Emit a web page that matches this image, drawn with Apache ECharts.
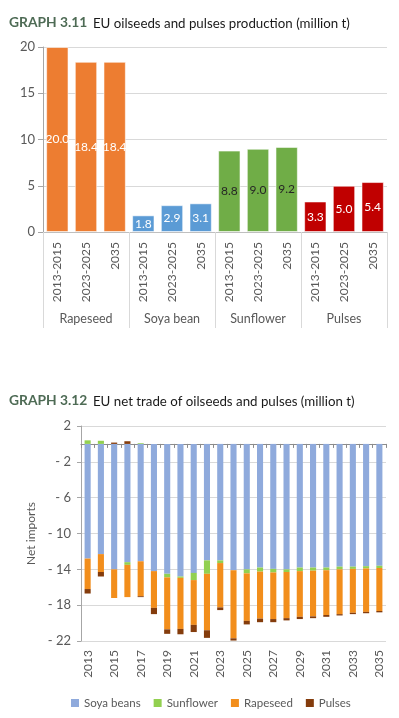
<!DOCTYPE html>
<html>
<head>
<meta charset="utf-8">
<script src="https://cdn.jsdelivr.net/npm/echarts@6/dist/echarts.min.js"></script>
<style>
  html, body { margin: 0; padding: 0; background: #fff; }
  #chart { width: 399px; height: 718px; }
</style>
</head>
<body>
<div id="chart"></div>
<script>
document.addEventListener('DOMContentLoaded', function()
{
  // GRAPH 3.11 - production
  var cropGroups = ['Rapeseed', 'Soya bean', 'Sunflower', 'Pulses'];
  var periodLabels = ['2013-2015', '2023-2025', '2035',
                      '2013-2015', '2023-2025', '2035',
                      '2013-2015', '2023-2025', '2035',
                      '2013-2015', '2023-2025', '2035'];
  var production = [20.0, 18.4, 18.4, 1.8, 2.9, 3.1, 8.8, 9.0, 9.2, 3.3, 5.0, 5.4];
  var prodTicks = [0, 5, 10, 15, 20];

  // GRAPH 3.12 - net trade
  var years = ['2013', '2014', '2015', '2016', '2017', '2018', '2019', '2020', '2021', '2022', '2023', '2024',
               '2025', '2026', '2027', '2028', '2029', '2030', '2031', '2032', '2033', '2034', '2035'];
  var soyaBeans = [-12.8, -12.3, -14.0, -13.2, -13.1, -14.2, -14.5, -14.8, -14.4, -13.0, -13.0, -14.1,
                   -14.0, -13.8, -13.95, -14.0, -13.8, -13.8, -13.8, -13.7, -13.7, -13.65, -13.6];
  var sunflower = [0.4, 0.35, 0, -0.3, 0.08, 0, -0.4, -0.15, -0.8, -1.5, -0.3, 0,
                   -0.45, -0.45, -0.4, -0.3, -0.4, -0.35, -0.3, -0.3, -0.25, -0.25, -0.25];
  var rapeseed = [-3.4, -2.0, -3.2, -3.6, -3.9, -4.1, -5.8, -5.7, -5.0, -6.3, -4.95, -7.6,
                  -5.3, -5.25, -5.2, -5.15, -5.1, -5.1, -5.0, -5.0, -4.9, -4.85, -4.8];
  var pulses = [-0.5, -0.5, 0.15, 0.3, -0.1, -0.7, -0.5, -0.6, -0.8, -0.85, -0.3, -0.25,
                -0.4, -0.4, -0.35, -0.25, -0.25, -0.2, -0.2, -0.15, -0.15, -0.15, -0.15];
  var tradeTicks = [2, -2, -6, -10, -14, -18, -22];

  var font = 'Lato';
  var grey = '#595959';
  var groupColors = ['#ed7d31', '#5b9bd5', '#70ad47', '#c00000'];
  var labelColors = ['#ffffff', '#ffffff', '#262626', '#ffffff'];

  var prodData = production.map(function(v, i) {
    var g = Math.floor(i / 3);
    return {
      value: v,
      itemStyle: { color: groupColors[g] },
      label: { color: labelColors[g] }
    };
  });

  var titleRich = {
    g: { fontFamily: font, fontWeight: 'bold', fontSize: 13.8, color: '#4e6b55' },
    t: { fontFamily: font, fontWeight: 'normal', fontSize: 13.3, color: '#1a1a1a', padding: [1, 0, 0, 1] }
  };

  var chart = echarts.init(document.getElementById('chart'));

  var option = {
    animation: false,
    textStyle: { fontFamily: font },
    title: [
      {
        text: '{g|GRAPH 3.11} {t|EU oilseeds and pulses production (million t)}',
        left: 4,
        top: 9,
        textStyle: { fontWeight: 'normal', rich: titleRich }
      },
      {
        text: '{g|GRAPH 3.12} {t|EU net trade of oilseeds and pulses (million t)}',
        left: 4,
        top: 387,
        textStyle: { fontWeight: 'normal', rich: titleRich }
      }
    ],
    legend: {
      data: ['Soya beans', 'Sunflower', 'Rapeseed', 'Pulses'],
      left: 66,
      top: 692,
      icon: 'rect',
      itemWidth: 8,
      itemHeight: 8,
      itemGap: 13,
      textStyle: { fontFamily: font, fontSize: 11.5, color: grey }
    },
    grid: [
      { left: 43, right: 12, top: 47, height: 185 },
      { left: 81, right: 13, top: 426, height: 215 }
    ],
    xAxis: [
      {
        gridIndex: 0,
        type: 'category',
        data: periodLabels,
        axisLine: { lineStyle: { color: '#bfbfbf' } },
        axisTick: { show: false },
        axisLabel: { rotate: 90, interval: 0, margin: 10, fontSize: 12, color: grey, fontFamily: font }
      },
      {
        gridIndex: 0,
        type: 'category',
        data: cropGroups,
        position: 'bottom',
        axisLine: { show: false },
        axisTick: { show: true, interval: 0, length: 96, lineStyle: { color: '#d9d9d9' } },
        axisLabel: { interval: 0, margin: 80, fontSize: 12.5, color: grey, fontFamily: font }
      },
      {
        gridIndex: 1,
        type: 'category',
        data: years,
        axisLine: { onZero: true, lineStyle: { color: '#8c8c8c', width: 1.2 } },
        axisTick: { show: true, interval: 0, length: 4, lineStyle: { color: '#8c8c8c' } },
        axisLabel: { show: false }
      },
      {
        gridIndex: 1,
        type: 'category',
        data: years,
        position: 'bottom',
        axisLine: { show: false, onZero: false },
        axisTick: { show: false },
        axisLabel: { rotate: 90, interval: 1, margin: 9, fontSize: 12, color: grey, fontFamily: font }
      }
    ],
    yAxis: [
      {
        gridIndex: 0,
        type: 'value',
        min: prodTicks[0],
        max: prodTicks[prodTicks.length - 1],
        interval: 5,
        axisLine: { show: true, lineStyle: { color: '#a6a6a6' } },
        axisTick: { show: true, length: 5, lineStyle: { color: '#a6a6a6' } },
        axisLabel: { margin: 8, fontSize: 13, color: grey, fontFamily: font },
        splitLine: { lineStyle: { color: '#d9d9d9' } }
      },
      {
        gridIndex: 1,
        type: 'value',
        min: tradeTicks[tradeTicks.length - 1],
        max: tradeTicks[0],
        interval: 4,
        name: 'Net imports',
        nameLocation: 'middle',
        nameGap: 44,
        nameTextStyle: { fontFamily: font, fontSize: 12, color: grey },
        axisLine: { show: true, lineStyle: { color: '#a6a6a6' } },
        axisTick: { show: true, length: 4, lineStyle: { color: '#a6a6a6' } },
        axisLabel: {
          margin: 10, fontSize: 13, color: grey, fontFamily: font,
          formatter: function(v) { return v < 0 ? '- ' + Math.abs(v) : String(v); }
        },
        splitLine: { lineStyle: { color: '#d9d9d9' } }
      }
    ],
    series: [
      {
        name: 'production',
        type: 'bar',
        xAxisIndex: 0,
        yAxisIndex: 0,
        data: prodData,
        barCategoryGap: '22%',
        itemStyle: { borderColor: 'rgba(255,255,255,0.55)', borderWidth: 1 },
        label: {
          show: true,
          position: 'inside',
          fontSize: 12,
          fontFamily: font,
          formatter: function(p) { return p.value.toFixed(1); }
        }
      },
      {
        name: 'Soya beans',
        type: 'bar',
        stack: 'trade',
        xAxisIndex: 2,
        yAxisIndex: 1,
        data: soyaBeans,
        barWidth: '46%',
        itemStyle: { color: '#8faadc' }
      },
      {
        name: 'Sunflower',
        type: 'bar',
        stack: 'trade',
        xAxisIndex: 2,
        yAxisIndex: 1,
        data: sunflower,
        itemStyle: { color: '#92d050' }
      },
      {
        name: 'Rapeseed',
        type: 'bar',
        stack: 'trade',
        xAxisIndex: 2,
        yAxisIndex: 1,
        data: rapeseed,
        itemStyle: { color: '#f28e1c' }
      },
      {
        name: 'Pulses',
        type: 'bar',
        stack: 'trade',
        xAxisIndex: 2,
        yAxisIndex: 1,
        data: pulses,
        itemStyle: { color: '#843c0c' }
      }
    ]
  };

  chart.setOption(option);
});
</script>
</body>
</html>
